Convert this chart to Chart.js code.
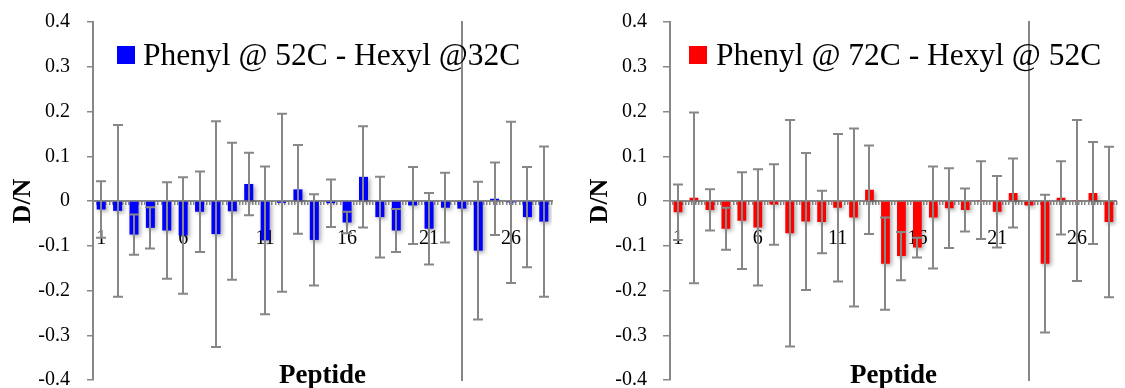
<!DOCTYPE html>
<html>
<head>
<meta charset="utf-8">
<script src="https://cdn.jsdelivr.net/npm/chart.js@4.4.1/dist/chart.umd.min.js"></script>
<style>
  html, body { margin: 0; padding: 0; background: #fff; overflow: hidden; width: 1125px; height: 388px; }
  canvas { position: absolute; top: 0; }
  #left { left: 0; }
  #right { left: 575px; }
</style>
</head>
<body>
<canvas id="left" width="575" height="388"></canvas>
<canvas id="right" width="560" height="388"></canvas>
<script>
// peptide numbers on the category axis
const peptides = ["1", "2", "3", "4", "5", "6", "7", "8", "9", "10", "11", "12", "13", "14",
	"15", "16", "17", "18", "19", "20", "21", "22", "23", "24", "25", "26", "27", "28"];

// D/N differences
const diff52vs32 = [-0.019, -0.022, -0.075, -0.060, -0.066, -0.077, -0.024, -0.074, -0.023, 0.038,
	-0.088, -0.004, 0.026, -0.087, -0.005, -0.048, 0.054, -0.036, -0.066, -0.010,
	-0.062, -0.015, -0.017, -0.111, 0.005, -0.003, -0.036, -0.046];
const err52vs32 = [0.063, 0.192, 0.045, 0.046, 0.108, 0.130, 0.090, 0.252, 0.153, 0.070,
	0.165, 0.199, 0.099, 0.102, 0.053, 0.024, 0.113, 0.090, 0.048, 0.086,
	0.080, 0.078, 0.600, 0.154, 0.081, 0.180, 0.112, 0.168];

const diff72vs52 = [-0.025, 0.007, -0.020, -0.062, -0.044, -0.059, -0.008, -0.072, -0.046, -0.047,
	-0.015, -0.037, 0.025, -0.140, -0.123, -0.104, -0.037, -0.016, -0.020, 0.002,
	-0.024, 0.018, -0.010, -0.140, 0.007, 0.001, 0.018, -0.047];
const err72vs52 = [0.062, 0.191, 0.046, 0.047, 0.108, 0.130, 0.090, 0.253, 0.153, 0.070,
	0.165, 0.199, 0.099, 0.103, 0.054, 0.022, 0.114, 0.089, 0.048, 0.087,
	0.080, 0.077, 0.600, 0.154, 0.082, 0.180, 0.114, 0.168];

// y axis range / tick step
const yMin = -0.4;
const yMax = 0.4;
const yStep = 0.1;

const AXIS_GRAY = "#888888";
Chart.defaults.font.family = "'Liberation Serif', serif";
Chart.defaults.color = "#000";

// soft shadow under the bars, then error bars on top
const errorBars = {
	id: "errorBars",
	beforeDatasetsDraw(chart) {
		const ctx = chart.ctx;
		ctx.save();
		ctx.shadowColor = "rgba(0,0,0,0.35)";
		ctx.shadowBlur = 4;
		ctx.shadowOffsetX = 2;
		ctx.shadowOffsetY = 2;
	},
	afterDatasetsDraw(chart, args, opts) {
		const { ctx, chartArea, scales } = chart;
		ctx.restore();
		const values = chart.data.datasets[0].data;
		const errs = opts.errors;
		ctx.save();
		ctx.beginPath();
		ctx.rect(chartArea.left, chartArea.top - 1, chartArea.width, chartArea.height + 2);
		ctx.clip();
		ctx.strokeStyle = "#878787";
		ctx.lineWidth = 2;
		const cap = 5;
		values.forEach((v, i) => {
			const x = Math.round(scales.x.getPixelForValue(i));
			const yHi = scales.y.getPixelForValue(v + errs[i]);
			const yLo = scales.y.getPixelForValue(v - errs[i]);
			ctx.beginPath();
			ctx.moveTo(x, yHi);
			ctx.lineTo(x, yLo);
			ctx.moveTo(x - cap, yHi);
			ctx.lineTo(x + cap, yHi);
			ctx.moveTo(x - cap, yLo);
			ctx.lineTo(x + cap, yLo);
			ctx.stroke();
		});
		ctx.restore();
	},
};

// legend square + text inside the plot, and the "Peptide" title at the bottom
const panelText = {
	id: "panelText",
	afterDraw(chart, args, opts) {
		const { ctx, chartArea } = chart;
		const ds = chart.data.datasets[0];
		const x = chartArea.left + opts.dx;
		const y = chartArea.top + 24;
		ctx.save();
		ctx.fillStyle = ds.backgroundColor;
		ctx.fillRect(x, y, 18, 18);
		ctx.fillStyle = "#000";
		ctx.font = "31.5px 'Liberation Serif'";
		ctx.textAlign = "left";
		ctx.textBaseline = "alphabetic";
		ctx.fillText(ds.label, x + opts.gap, y + 19);

		ctx.font = "bold 27px 'Liberation Serif'";
		ctx.textAlign = "center";
		ctx.fillText(opts.xTitle, (chartArea.left + chartArea.right) / 2, 383);
		ctx.restore();
	},
};

function makePanel(id, values, errors, color, label, p) {
	return new Chart(document.getElementById(id), {
		type: "bar",
		data: {
			labels: peptides,
			datasets: [{
				label: label,
				data: values,
				backgroundColor: color,
				borderWidth: 0,
				categoryPercentage: 1,
				barPercentage: 0.55,
			}],
		},
		options: {
			responsive: false,
			animation: false,
			layout: { padding: { left: 0, right: p.padRight, top: 22, bottom: 8 } },
			scales: {
				y: {
					min: yMin,
					max: yMax,
					afterFit(scale) {
						// fixed axis width, and keep the label padding from squeezing the plot
						scale.width = p.axisLeft;
						scale.paddingTop = 0;
						scale.paddingBottom = 0;
					},
					ticks: {
						stepSize: yStep,
						font: { size: 20 },
						padding: p.yPad,
						callback: (v) => String(Math.round(v * 10) / 10),
					},
					grid: { drawOnChartArea: false, drawTicks: true, tickLength: p.yTick, color: AXIS_GRAY, lineWidth: 1.5 },
					border: { display: true, color: AXIS_GRAY, width: 2 },
					title: {
						display: true,
						text: "D/N",
						font: { size: 26, weight: "bold" },
						padding: { top: p.titlePad, bottom: 0 },
					},
				},
				x: {
					type: "category",
					position: { y: 0 },
					grid: { display: false, drawTicks: false },
					border: { display: true, color: AXIS_GRAY, width: 2 },
					ticks: {
						autoSkip: false,
						maxRotation: 0,
						font: { size: 20 },
						padding: 26,
						callback: (v, i) => (i % 5 === 0 ? peptides[i] : ""),
					},
				},
				xm: {
					type: "linear",
					position: { y: 0 },
					min: -0.5,
					max: 27.5,
					ticks: { display: false, stepSize: 0.2 },
					grid: { drawOnChartArea: false, drawTicks: true, tickLength: 4, color: AXIS_GRAY, lineWidth: 1.5 },
					border: { display: false },
				},
			},
			plugins: {
				legend: { display: false },
				tooltip: { enabled: false },
				errorBars: { errors: errors },
				panelText: { dx: p.legendDx, gap: p.legendGap, xTitle: "Peptide" },
			},
		},
		plugins: [errorBars, panelText],
	});
}

makePanel("left", diff52vs32, err52vs32, "#0000ff", "Phenyl @ 52C - Hexyl @32C",
	{ axisLeft: 93, padRight: 23, titlePad: 7.5, yPad: 17, yTick: 6, legendDx: 24, legendGap: 26 });
makePanel("right", diff72vs52, err72vs52, "#ff0000", "Phenyl @ 72C - Hexyl @ 52C",
	{ axisLeft: 95, padRight: 6, titlePad: 9.5, yPad: 16, yTick: 7, legendDx: 19, legendGap: 27 });
</script>
</body>
</html>
